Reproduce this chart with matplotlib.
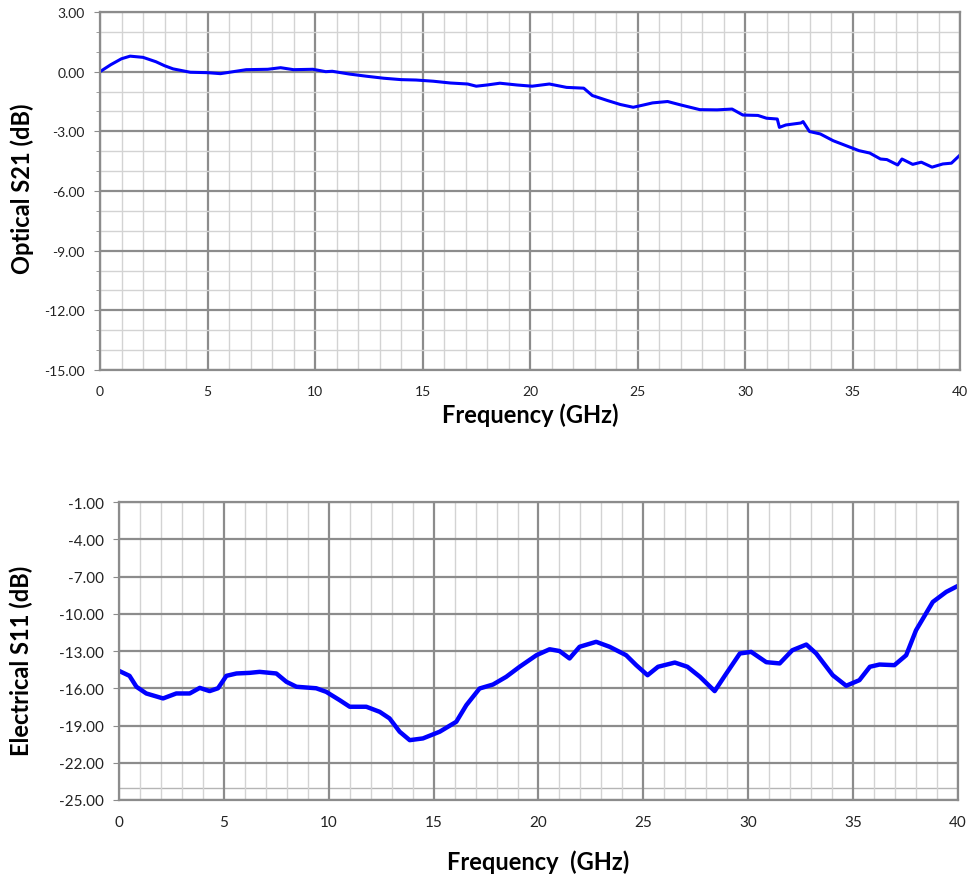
import numpy as np
import matplotlib.pyplot as plt
from matplotlib.ticker import MultipleLocator, FormatStrFormatter

plt.rcParams['font.family'] = ['Lato', 'DejaVu Sans']
plt.rcParams['axes.unicode_minus'] = False

# optical S21
opt_freq = [0.0, 0.5, 1.0, 1.4, 2.0, 2.6, 3.0, 3.4, 4.2, 5.0, 5.6, 6.2, 6.8, 7.8, 8.4, 9.0,
            9.9, 10.5, 10.8, 11.6, 12.4, 13.2, 14.0, 14.7, 15.5, 16.3, 17.1, 17.5, 18.0,
            18.6, 19.4, 20.1, 20.9, 21.7, 22.5, 22.9, 23.6, 24.2, 24.8, 25.3, 25.7, 26.4,
            27.0, 27.9, 28.7, 29.4, 29.9, 30.6, 31.0, 31.5, 31.6, 31.9, 32.6, 32.7, 33.0,
            33.5, 34.1, 34.7, 35.3, 35.8, 36.3, 36.6, 37.1, 37.3, 37.8, 38.2, 38.7, 39.2,
            39.6, 40.0]
opt_s21 = [0.0, 0.35, 0.65, 0.78, 0.72, 0.5, 0.3, 0.14, -0.03, -0.05, -0.1, 0.0, 0.1, 0.12,
           0.2, 0.1, 0.12, 0.0, 0.02, -0.12, -0.23, -0.33, -0.4, -0.42, -0.48, -0.57, -0.62,
           -0.73, -0.67, -0.58, -0.67, -0.73, -0.62, -0.79, -0.83, -1.2, -1.45, -1.65, -1.79,
           -1.67, -1.57, -1.5, -1.67, -1.91, -1.92, -1.88, -2.18, -2.2, -2.34, -2.38, -2.8,
           -2.68, -2.58, -2.51, -3.01, -3.13, -3.47, -3.72, -3.97, -4.09, -4.39, -4.42,
           -4.69, -4.39, -4.66, -4.55, -4.8, -4.64, -4.6, -4.19]

# electrical S11
ele_freq = [0.0, 0.5, 0.83, 1.3, 2.1, 2.73, 3.37, 3.85, 4.32, 4.72, 5.12, 5.6, 6.23, 6.7,
            7.5, 7.98, 8.46, 9.4, 9.88, 10.52, 11.0, 11.79, 12.43, 12.9, 13.38, 13.86,
            14.49, 15.29, 16.08, 16.56, 17.19, 17.83, 18.46, 19.1, 19.9, 20.53, 21.0,
            21.48, 21.96, 22.75, 23.39, 24.18, 24.66, 25.2, 25.7, 26.5, 27.1, 27.7, 28.4,
            28.9, 29.6, 30.14, 30.86, 31.5, 32.1, 32.77, 33.24, 34.03, 34.67, 35.3, 35.8,
            36.26, 36.97, 37.53, 38.0, 38.8, 39.44, 39.9]
ele_s11 = [-14.6, -15.0, -15.88, -16.42, -16.82, -16.42, -16.42, -15.97, -16.23, -16.0,
           -15.0, -14.81, -14.76, -14.68, -14.81, -15.48, -15.88, -16.0, -16.29, -16.96,
           -17.49, -17.49, -17.9, -18.43, -19.5, -20.18, -20.04, -19.5, -18.7, -17.36,
           -16.02, -15.7, -15.08, -14.27, -13.34, -12.86, -13.0, -13.6, -12.66, -12.26,
           -12.66, -13.34, -14.14, -14.95, -14.27, -13.93, -14.27, -15.08, -16.23, -14.95,
           -13.2, -13.07, -13.9, -14.0, -12.94, -12.48, -13.2, -14.95, -15.8, -15.35,
           -14.27, -14.09, -14.14, -13.34, -11.33, -9.05, -8.24, -7.84]

fig = plt.figure(figsize=(9.7, 8.78), dpi=100)
ax1 = fig.add_axes([0.1031, 0.5774, 0.8866, 0.4078])
ax2 = fig.add_axes([0.1227, 0.0877, 0.8649, 0.3394])

major_col = '#8c8c8c'
minor_col = '#d3d3d3'


def style(ax, ylo, yhi, yminor, tsize):
    ax.set_xlim(0, 40)
    ax.set_ylim(ylo, yhi)
    ax.xaxis.set_major_locator(MultipleLocator(5))
    ax.xaxis.set_minor_locator(MultipleLocator(1))
    ax.yaxis.set_major_locator(MultipleLocator(3))
    ax.yaxis.set_major_formatter(FormatStrFormatter('%.2f'))
    if yminor:
        ax.yaxis.set_minor_locator(MultipleLocator(1))
    ax.grid(which='major', color=major_col, linewidth=1.6)
    ax.grid(which='minor', axis='x', color=minor_col, linewidth=1.0)
    if yminor:
        ax.grid(which='minor', axis='y', color=minor_col, linewidth=1.0)
    ax.set_axisbelow(True)
    for s in ax.spines.values():
        s.set_color(major_col)
        s.set_linewidth(1.6)
    ax.tick_params(axis='x', which='both', length=0, pad=11, labelsize=tsize, labelcolor='#222222')
    ax.tick_params(axis='y', which='major', length=4, color=major_col, pad=7,
                   labelsize=tsize, labelcolor='#222222')
    ax.tick_params(axis='y', which='minor', length=3, color=major_col)


style(ax1, -15, 3, True, 10)
ax1.plot(opt_freq, opt_s21, color='#0000ff', linewidth=2.2)
ax1.set_xlabel('Frequency (GHz)', fontsize=17, fontweight='bold', va='center')
ax1.set_ylabel('Optical S21 (dB)', fontsize=17, fontweight='bold', va='center')
ax1.xaxis.set_label_coords(0.5, -0.123)
ax1.yaxis.set_label_coords(-0.091, 0.51)

style(ax2, -25, -1, False, 11)
ax2.yaxis.set_major_locator(MultipleLocator(3, offset=-1))
ax2.axhline(-24, color='#b5b5b5', linewidth=1.0, zorder=0.5)
ax2.plot(ele_freq, ele_s11, color='#0000ff', linewidth=3.2)
ax2.set_xlabel('Frequency  (GHz)', fontsize=17, fontweight='bold', va='center')
ax2.set_ylabel('Electrical S11 (dB)', fontsize=17, fontweight='bold', va='center')
ax2.xaxis.set_label_coords(0.5, -0.205)
ax2.yaxis.set_label_coords(-0.116, 0.47)

fig.savefig('out.png', dpi=100)
